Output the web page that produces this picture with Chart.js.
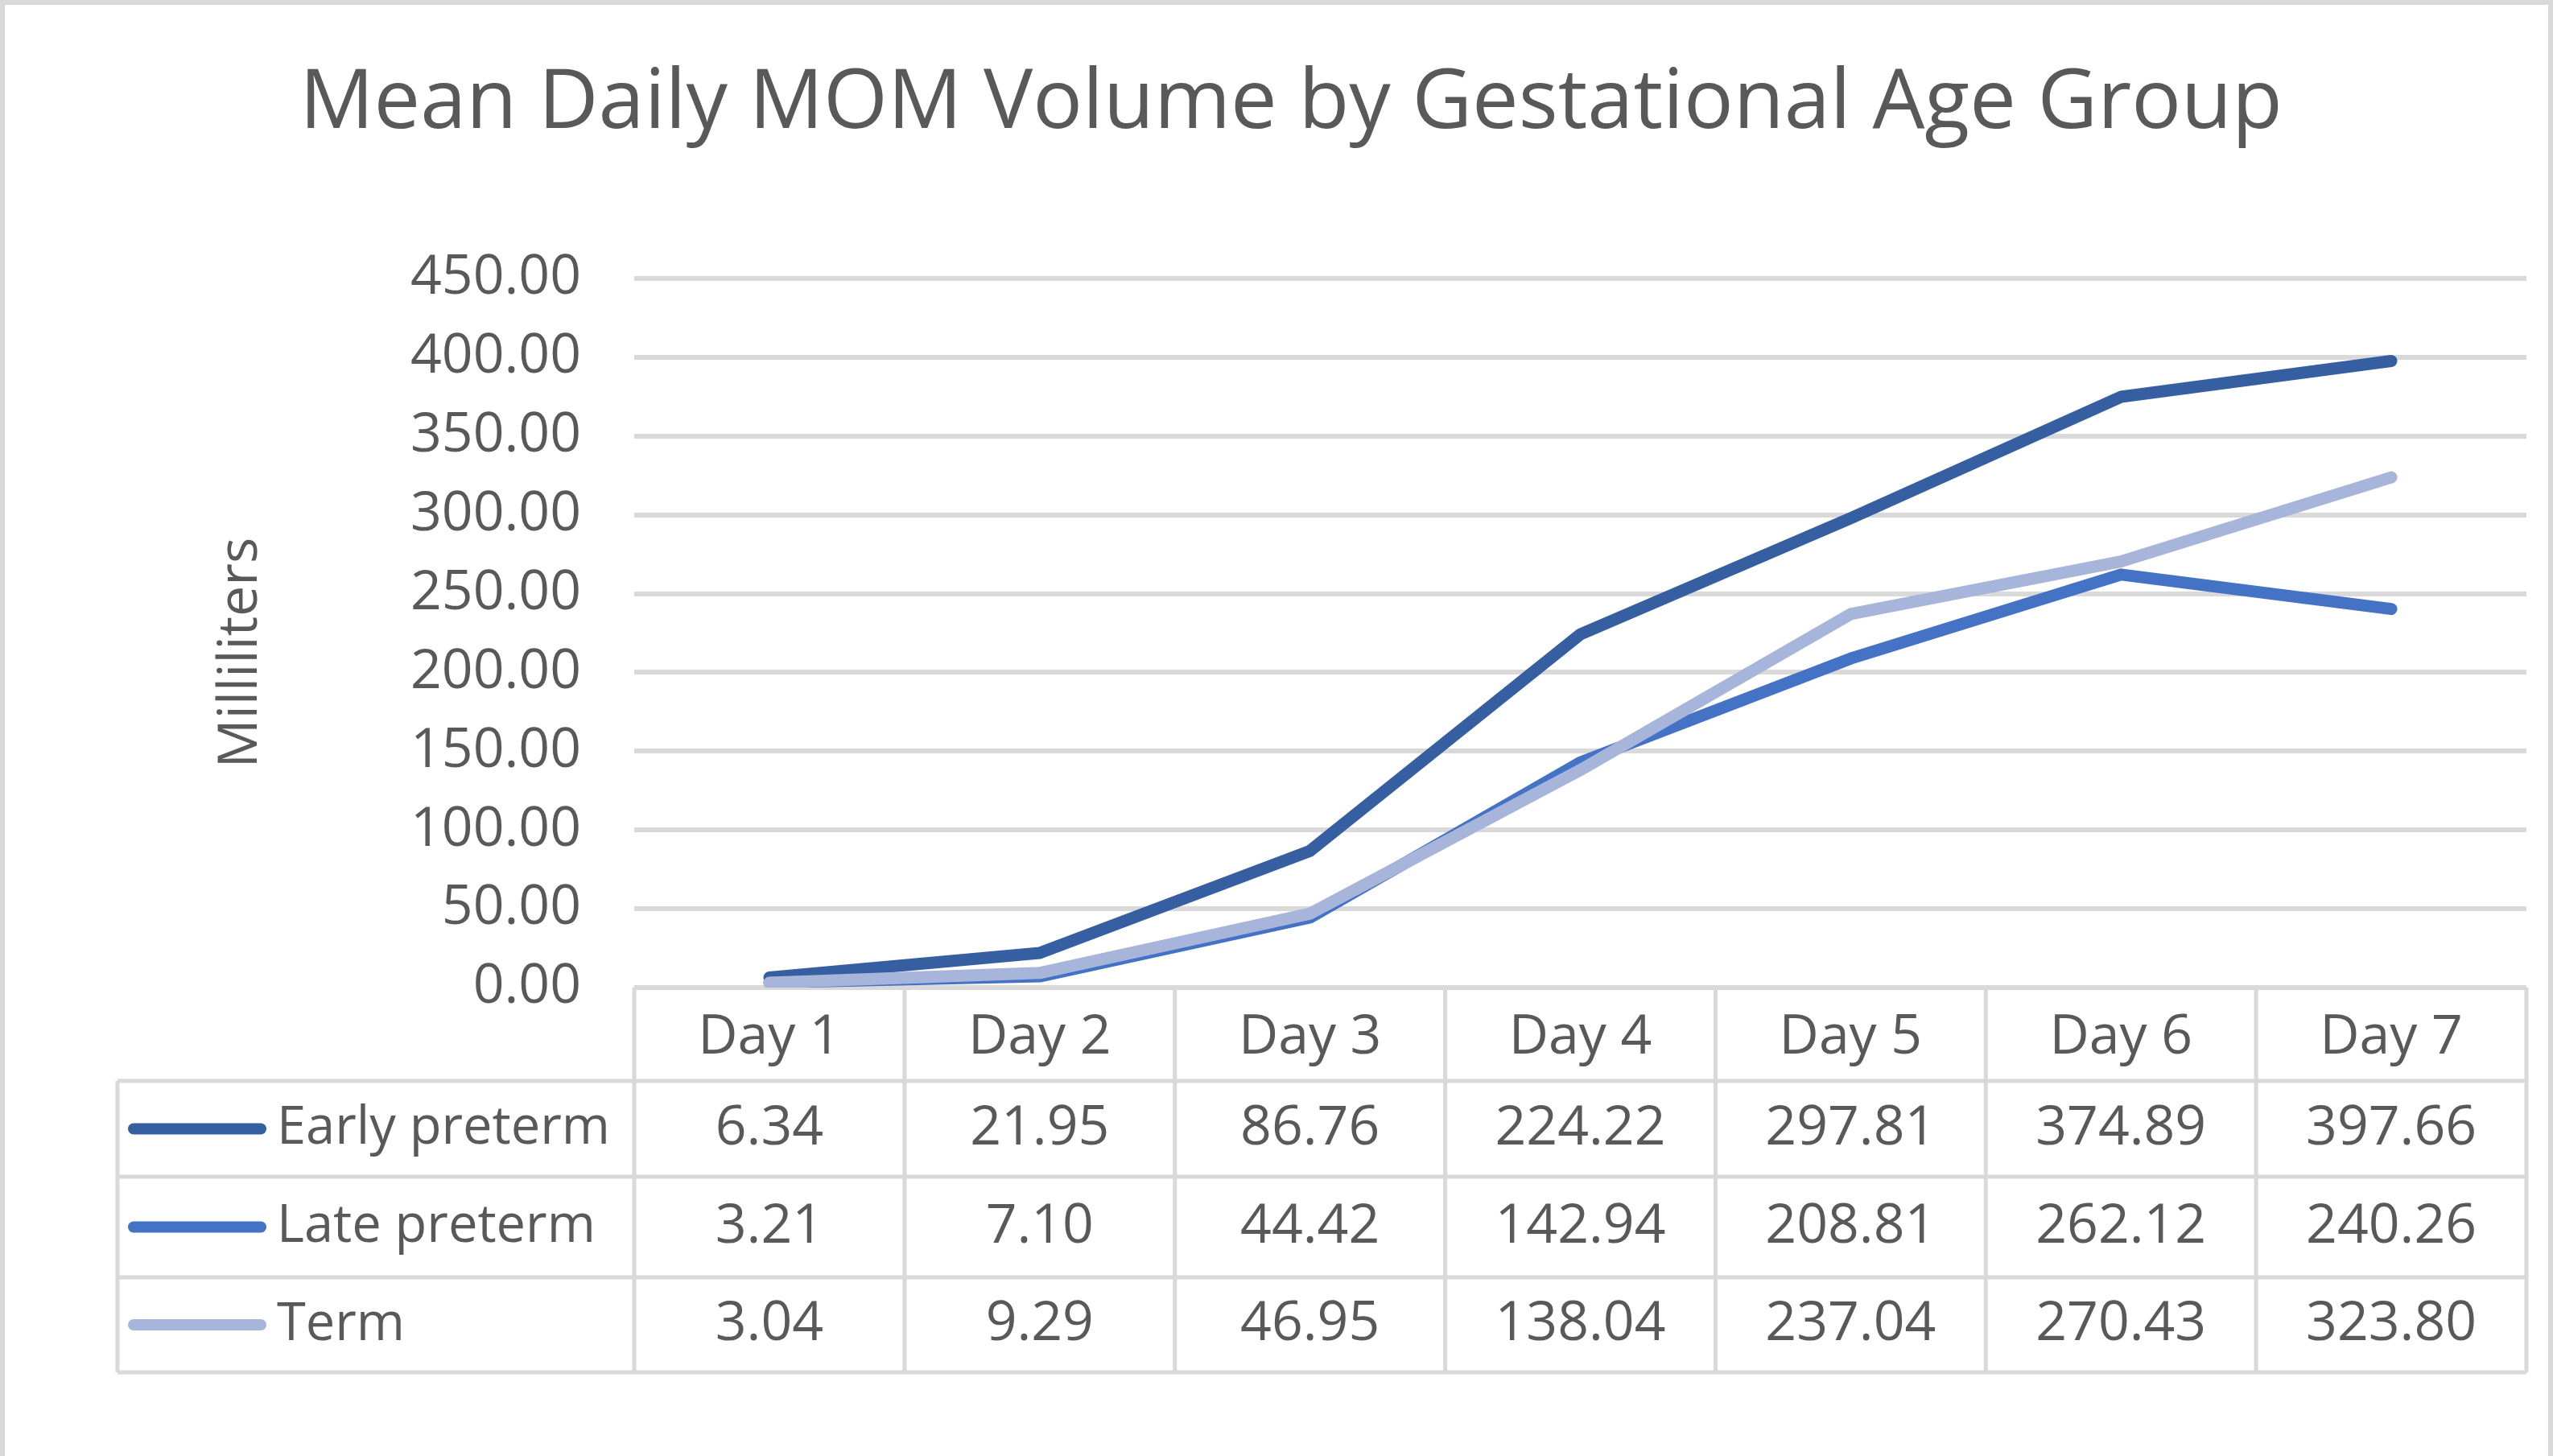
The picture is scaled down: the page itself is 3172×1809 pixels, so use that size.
<!DOCTYPE html>
<html>
<head>
<meta charset="utf-8">
<script src="https://cdn.jsdelivr.net/npm/chart.js@4.4.1/dist/chart.umd.min.js"></script>
<style>
  html, body { margin: 0; padding: 0; background: #fff; }
  canvas { display: block; }
</style>
</head>
<body>
<canvas id="myChart" width="3172" height="1809"></canvas>
<script>
// data
const days = ['Day 1', 'Day 2', 'Day 3', 'Day 4', 'Day 5', 'Day 6', 'Day 7'];
const seriesNames = ['Early preterm', 'Late preterm', 'Term'];
const earlyPreterm = [6.34, 21.95, 86.76, 224.22, 297.81, 374.89, 397.66];
const latePreterm = [3.21, 7.10, 44.42, 142.94, 208.81, 262.12, 240.26];
const term = [3.04, 9.29, 46.95, 138.04, 237.04, 270.43, 323.80];
const seriesColors = ['#365FA1', '#4472C4', '#A8B5DA'];

const titleText = 'Mean Daily MOM Volume by Gestational Age Group';
const yTitle = 'Milliliters';
const textColor = '#595959';
const gridColor = '#D9D9D9';
const family = '"Open Sans", sans-serif';

// pick font sizes so text widths match the picture
function fitFont(text, targetWidth) {
  const c = document.createElement('canvas').getContext('2d');
  c.font = '100px ' + family;
  return 100 * targetWidth / c.measureText(text).width;
}
const titleSize = fitFont(titleText, 2464);
const labelSize = fitFont('450.00', 212);
const legendSize = fitFont('Early preterm', 414);
const yTitleSize = fitFont(yTitle, 287);

// plot box and table rows below it
const plotLeft = 788, plotRight = 3139, plotTop = 346;
const headerTop = 1227;
const rowLines = [1343, 1462, 1587, 1705];
const tableLeft = 146;
const padLeft = 69;

const dataTable = {
  id: 'dataTable',
  beforeDatasetsDraw(chart) {
    const ctx = chart.ctx;
    const x = chart.scales.x;
    const area = chart.chartArea;
    const half = (x.getPixelForValue(1) - x.getPixelForValue(0)) / 2;
    const right = area.right;
    ctx.save();
    ctx.strokeStyle = gridColor;
    ctx.lineWidth = 5;
    ctx.beginPath();
    ctx.moveTo(area.left, headerTop); ctx.lineTo(right, headerTop);
    rowLines.forEach(y => { ctx.moveTo(tableLeft, y); ctx.lineTo(right, y); });
    for (let i = 0; i < days.length; i++) {
      const cx = x.getPixelForValue(i) - half;
      ctx.moveTo(cx, headerTop); ctx.lineTo(cx, rowLines[3]);
    }
    ctx.moveTo(right, headerTop); ctx.lineTo(right, rowLines[3]);
    ctx.moveTo(tableLeft, rowLines[0]); ctx.lineTo(tableLeft, rowLines[3]);
    ctx.stroke();

    ctx.fillStyle = textColor;
    ctx.textBaseline = 'middle';
    chart.data.datasets.forEach((ds, r) => {
      const cy = (rowLines[r] + rowLines[r + 1]) / 2;
      ctx.font = labelSize + 'px ' + family;
      ctx.textAlign = 'center';
      ds.data.forEach((v, i) => {
        ctx.fillText(v.toFixed(2), x.getPixelForValue(i), cy);
      });
      // legend key
      ctx.strokeStyle = ds.borderColor;
      ctx.lineWidth = 14;
      ctx.lineCap = 'round';
      ctx.beginPath();
      ctx.moveTo(166, cy); ctx.lineTo(324, cy);
      ctx.stroke();
      ctx.font = legendSize + 'px ' + family;
      ctx.textAlign = 'left';
      ctx.fillText(ds.label, 344, cy);
    });

    // y axis title
    ctx.save();
    ctx.translate(300, 811);
    ctx.rotate(-Math.PI / 2);
    ctx.font = yTitleSize + 'px ' + family;
    ctx.textAlign = 'center';
    ctx.fillText(yTitle, 0, 0);
    ctx.restore();

    // outer frame of the picture
    ctx.strokeStyle = gridColor;
    ctx.lineWidth = 6;
    ctx.lineCap = 'butt';
    ctx.beginPath();
    ctx.moveTo(3, chart.height); ctx.lineTo(3, 3); ctx.lineTo(chart.width - 3, 3); ctx.lineTo(chart.width - 3, chart.height);
    ctx.stroke();
    ctx.restore();
  }
};

const titlePadTop = 130 - titleSize * 0.6;
const titlePadBottom = plotTop - titlePadTop - titleSize * 1.2;

new Chart(document.getElementById('myChart').getContext('2d'), {
  type: 'line',
  data: {
    labels: days,
    datasets: [
      { label: seriesNames[0], data: earlyPreterm, borderColor: seriesColors[0], order: 2 },
      { label: seriesNames[1], data: latePreterm, borderColor: seriesColors[1], order: 1 },
      { label: seriesNames[2], data: term, borderColor: seriesColors[2], order: 0 }
    ]
  },
  options: {
    responsive: false,
    animation: false,
    devicePixelRatio: 1,
    elements: {
      line: { borderWidth: 15, tension: 0, borderJoinStyle: 'round', borderCapStyle: 'round', fill: false },
      point: { radius: 0, hoverRadius: 0 }
    },
    layout: { padding: { top: 0, left: padLeft, right: 3172 - plotRight, bottom: 1809 - headerTop - 116 } },
    plugins: {
      legend: { display: false },
      tooltip: { enabled: false },
      title: {
        display: true,
        text: titleText,
        color: textColor,
        font: { family: family, size: titleSize, weight: 'normal', lineHeight: 1.2 },
        padding: { top: titlePadTop, bottom: titlePadBottom }
      }
    },
    scales: {
      x: {
        offset: true,
        grid: { display: false },
        border: { display: false },
        ticks: {
          color: textColor,
          font: { family: family, size: labelSize },
          padding: 14,
          maxRotation: 0
        },
        afterFit(scale) { scale.height = 116; }
      },
      y: {
        min: 0,
        max: 450,
        grid: { color: gridColor, lineWidth: 6, drawTicks: false },
        border: { display: false },
        ticks: {
          stepSize: 50,
          color: textColor,
          font: { family: family, size: labelSize },
          padding: 66,
          callback: v => v.toFixed(2)
        },
        afterFit(scale) { scale.width = plotLeft - padLeft; }
      }
    }
  },
  plugins: [dataTable]
});
</script>
</body>
</html>
